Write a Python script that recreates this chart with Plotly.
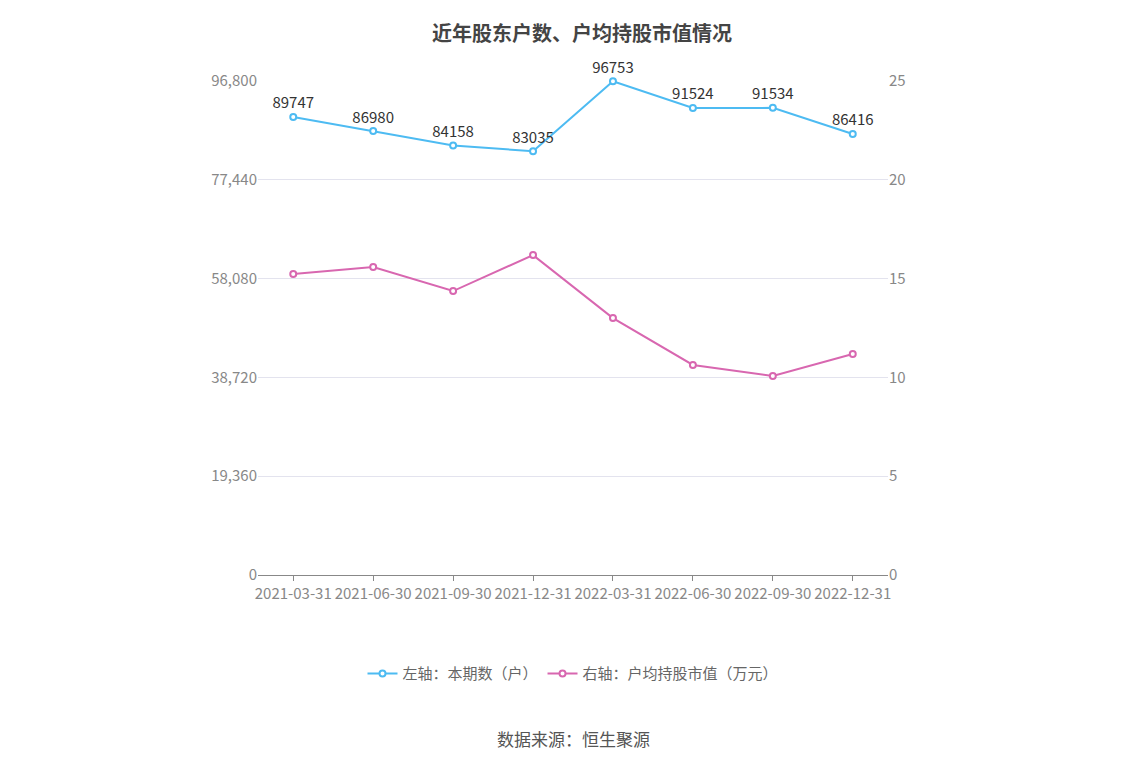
import plotly.graph_objects as go

dates = ["2021-03-31", "2021-06-30", "2021-09-30", "2021-12-31",
         "2022-03-31", "2022-06-30", "2022-09-30", "2022-12-31"]
holders = [89747, 86980, 84158, 83035, 96753, 91524, 91534, 86416]
avg_value = [15.23, 15.59, 14.37, 16.19, 13.0, 10.63, 10.07, 11.18]

left_ticks = [0, 19360, 38720, 58080, 77440, 96800]
right_ticks = [0, 5, 10, 15, 20, 25]

fig = go.Figure()
fig.add_trace(go.Scatter(
    x=dates, y=holders, name="左轴：本期数（户）",
    mode="lines+markers+text", text=[str(v) for v in holders],
    textposition="top center", textfont=dict(size=15, color="#333"),
    cliponaxis=False,
    line=dict(color="#4dbbf2", width=2),
    marker=dict(size=6, color="white", line=dict(color="#4dbbf2", width=2)),
))
fig.add_trace(go.Scatter(
    x=dates, y=avg_value, name="右轴：户均持股市值（万元）", yaxis="y2",
    mode="lines+markers",
    line=dict(color="#d867b0", width=2),
    marker=dict(size=6, color="white", line=dict(color="#d867b0", width=2)),
))

fig.update_layout(
    width=1148, height=776,
    paper_bgcolor="white", plot_bgcolor="white",
    font=dict(family="Noto Sans CJK SC", size=14, color="#888"),
    title=dict(text="<b>近年股东户数、户均持股市值情况</b>", x=0.5, y=0.975,
               font=dict(size=20, color="#444")),
    margin=dict(l=250, r=268, t=73, b=209),
    xaxis=dict(type="category", showgrid=False, showline=True, linecolor="#888",
               ticks="outside", tickcolor="#888", tickfont=dict(size=15, color="#888")),
    yaxis=dict(range=[0, 96800], tickvals=left_ticks,
               ticktext=[f"{v:,}" for v in left_ticks],
               gridcolor="#e3e3ee", zeroline=False, tickfont=dict(size=15)),
    yaxis2=dict(range=[0, 25], tickvals=right_ticks, overlaying="y", side="right",
                showgrid=False, zeroline=False, tickfont=dict(size=15)),
    legend=dict(orientation="h", x=0.5, xanchor="center", y=-0.2, yanchor="middle",
                font=dict(size=15, color="#666")),
    showlegend=True,
)
fig.add_annotation(text="数据来源：恒生聚源", xref="paper", yref="paper",
                   x=0.5, y=-0.36, showarrow=False,
                   font=dict(size=17, color="#555"))
fig.write_html("out.html")
